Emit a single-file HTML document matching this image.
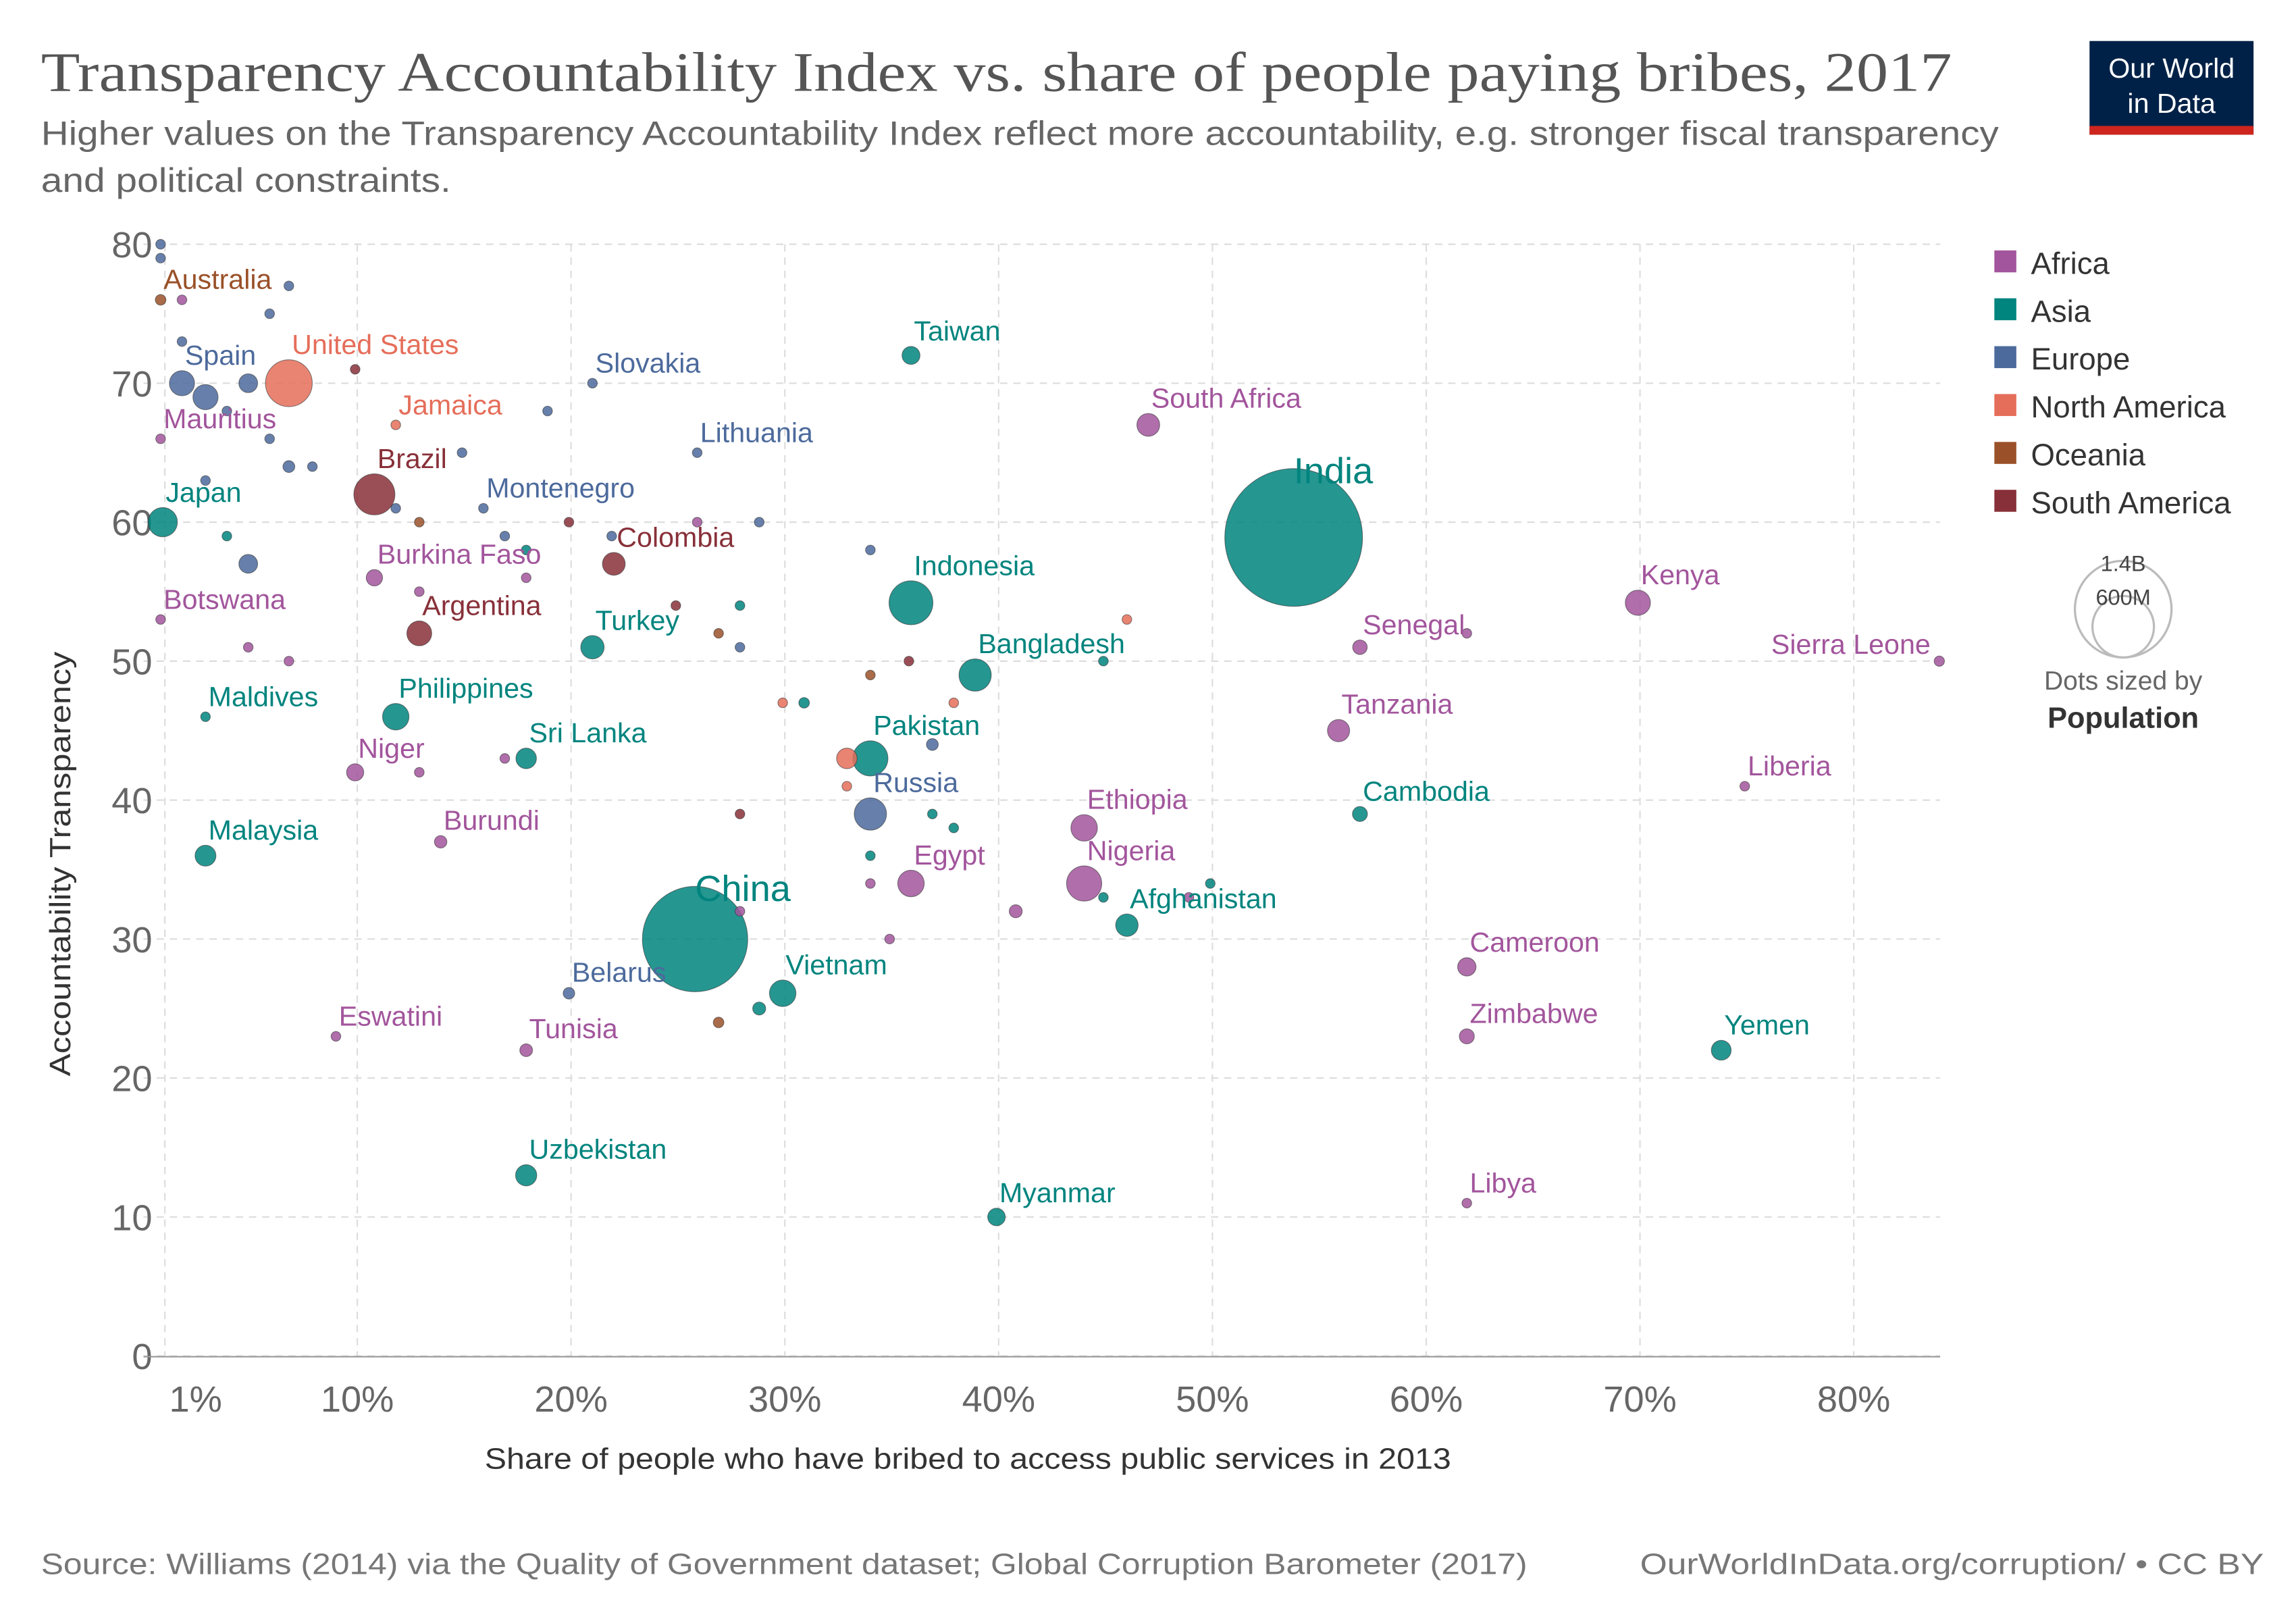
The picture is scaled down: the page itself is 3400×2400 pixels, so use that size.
<!DOCTYPE html>
<html><head><meta charset="utf-8">
<style>
html,body{margin:0;padding:0;background:#fff;}
svg{display:block;}
text{font-family:"Liberation Sans",sans-serif;}
</style></head>
<body>
<svg id="chart" width="3400" height="2400" viewBox="0 0 1568 1107" preserveAspectRatio="none" xmlns="http://www.w3.org/2000/svg">
<text x="28" y="62" style="font-family:'Liberation Serif',serif" font-size="38" fill="#555" textLength="1305" lengthAdjust="spacingAndGlyphs">Transparency Accountability Index vs. share of people paying bribes, 2017</text>
<text x="28" y="99" font-size="23" fill="#666" textLength="1337" lengthAdjust="spacingAndGlyphs">Higher values on the Transparency Accountability Index reflect more accountability, e.g. stronger fiscal transparency</text>
<text x="28" y="131" font-size="23" fill="#666" textLength="280" lengthAdjust="spacingAndGlyphs">and political constraints.</text>
<g>
<rect x="1427" y="28" width="112" height="64" fill="#002147"/>
<rect x="1427" y="86" width="112" height="6" fill="#ce261e"/>
<text x="1483" y="53" font-size="19" fill="#fff" text-anchor="middle">Our World</text>
<text x="1483" y="77" font-size="19" fill="#fff" text-anchor="middle">in Data</text>
</g>
<g id="grid"></g>
<g id="dots"></g>
<g id="labels"></g>
<text transform="translate(48,590) rotate(-90)" font-size="20" fill="#333" text-anchor="middle" textLength="290" lengthAdjust="spacingAndGlyphs">Accountability Transparency</text>
<text x="661" y="1003" font-size="20" fill="#333" text-anchor="middle" textLength="660" lengthAdjust="spacingAndGlyphs">Share of people who have bribed to access public services in 2013</text>
<g id="legend"></g>
<g>
<circle cx="1450" cy="416" r="33" fill="none" stroke="#bbb" stroke-width="1.5"/>
<circle cx="1450" cy="428" r="21" fill="none" stroke="#bbb" stroke-width="1.5"/>
<text x="1450" y="390" font-size="15" fill="#444" text-anchor="middle">1.4B</text>
<text x="1450" y="413" font-size="15" fill="#444" text-anchor="middle">600M</text>
<text x="1450" y="471" font-size="18" fill="#666" text-anchor="middle">Dots sized by</text>
<text x="1450" y="497" font-size="20" fill="#333" font-weight="bold" text-anchor="middle">Population</text>
</g>
<text x="28" y="1075" font-size="20" fill="#777" textLength="1015" lengthAdjust="spacingAndGlyphs">Source: Williams (2014) via the Quality of Government dataset; Global Corruption Barometer (2017)</text>
<text x="1546" y="1075" font-size="20" fill="#777" text-anchor="end" textLength="426" lengthAdjust="spacingAndGlyphs">OurWorldInData.org/corruption/ • CC BY</text>
</svg>
<script>
const xTicks = [1,10,20,30,40,50,60,70,80];
const xTickLabels = ["1%","10%","20%","30%","40%","50%","60%","70%","80%"];
const yTicks = [0,10,20,30,40,50,60,70,80];
const regions = ["Africa","Asia","Europe","North America","Oceania","South America"];
const regionColors = ["#a2559c","#00847e","#4c6a9c","#e56e5a","#9a5129","#883039"];
const names = ["Australia","United States","Spain","Mauritius","Brazil","Japan","Jamaica","Slovakia","Lithuania","Montenegro","Taiwan","South Africa","India","Indonesia","Colombia","Burkina Faso","Botswana","Argentina","Turkey","Bangladesh","Kenya","Senegal","Sierra Leone","Maldives","Philippines","Tanzania","Pakistan","Niger","Sri Lanka","Russia","Ethiopia","Cambodia","Liberia","Malaysia","Burundi","Egypt","Nigeria","China","Afghanistan","Cameroon","Vietnam","Belarus","Eswatini","Tunisia","Zimbabwe","Yemen","Uzbekistan","Myanmar","Libya",
"","","","","","","","","","","","","","","","","","","","","","","","","","","","","","","","","","","","","","","","","","","","","","","","","","",""];
const bribes = [0.8,6.8,1.8,0.8,10.8,0.9,11.8,21,25.9,15.9,35.9,47,53.8,35.9,22,10.8,0.8,12.9,21,38.9,69.9,56.9,84,2.9,11.8,55.9,34,9.9,17.9,34,44,56.9,74.9,2.9,13.9,35.9,44,25.8,46,61.9,29.9,19.9,9,17.9,61.9,73.8,17.9,39.9,61.9,
0.8,1.8,6.8,5.9,1.8,2.9,3.9,4.9,5.9,6.8,7.9,2.9,11.8,9.9,18.9,14.9,3.9,4.9,12.9,19.9,16.9,17.9,17.9,12.9,21.9,25.9,28.8,34,24.9,27.9,26.9,27.9,4.9,6.8,35.8,34,30.9,29.9,37.9,46,44.9,36.9,32.9,16.9,12.9,32.9,36.9,27.9,37.9,34,34,27.9,40.8,44.9,48.9,49.9,34.9,26.9,28.8,61.9,0.8];
const transparency = [76,70,70,66,62,60,67,70,65,61,72,67,58.9,54.2,57,56,53,52,51,49,54.2,51,50,46,46,45,43,42,43,39,38,39,41,36,37,34,34,30,31,28,26.1,26.1,23,22,23,22,13,10,11,
80,76,77,75,73,69,68,70,66,64,64,63,61,71,68,65,59,57,60,60,59,58,56,55,59,60,60,58,54,54,52,51,51,50,50,49,47,47,47,53,50,44,43,43,42,41,39,39,38,36,34,32,32,33,33,34,30,24,25,52,79];
const regionIdx = [4,3,2,0,5,1,3,2,2,2,1,0,1,1,5,0,0,5,1,1,0,0,0,1,1,0,1,0,1,2,0,1,0,1,0,0,0,1,1,0,1,2,0,0,0,1,1,1,0,
2,0,2,2,2,2,2,2,2,2,2,2,2,5,2,2,1,2,4,5,2,1,0,0,2,0,2,2,5,1,4,2,0,0,5,4,1,3,3,3,1,2,3,0,0,3,1,5,1,1,0,0,0,1,0,1,0,4,1,0,2];
const population = [8,156,45,1.3,120,61,3,5.5,3,0.6,23,37,1350,137,37,19,2.3,44,39,74,45,15,7.5,0.4,50,35,88,21,30,74,50,16,4.7,31,11,50,88,790,36,24,50,9.5,1.4,11.5,16,28,32,22,6.4,
1,2,5,5,3,45,5,25,5,10,5,5,5,3,5,5,5,25,3,5,5,5,5,3,5,5,5,5,5,5,5,5,5,5,5,5,8,5,5,3,3,10,30,3,3,5,5,5,5,5,5,5,12,5,5,5,5,8,12,5,1];

const x = v => 98 + 14.6*v;
const y = v => 926 - 9.49*v;
const r = p => Math.max(3.3, 1.28*Math.sqrt(p));
const NS = "http://www.w3.org/2000/svg";
function mk(tag, attrs, parent){const e=document.createElementNS(NS,tag);for(const k in attrs)e.setAttribute(k,attrs[k]);parent.appendChild(e);return e;}

const grid = document.getElementById('grid');
yTicks.forEach(t=>{
  const l=mk('line',{x1:98,x2:1325,y1:y(t),y2:y(t),stroke:'#ddd','stroke-dasharray':'5,4'},grid);
  
  
  const tx=mk('text',{x:104,y:y(t)+9,'font-size':25,fill:'#666','text-anchor':'end'},grid);
  tx.textContent=t;
  
  
});
xTicks.forEach((t,i)=>{
  const l=mk('line',{x1:x(t),x2:x(t),y1:y(80),y2:926,stroke:'#ddd','stroke-dasharray':'5,4'},grid);
  
  
  const tx=mk('text',{x:i===0?x(t)+21:x(t),y:964,'font-size':25,fill:'#666','text-anchor':'middle'},grid);
  tx.textContent=xTickLabels[i];
  
  
});
const ax=mk('line',{x1:98,x2:1325,y1:926.5,y2:926.5,stroke:'#999'},grid);



const dots=document.getElementById('dots'), labels=document.getElementById('labels');
const order=bribes.map((_,i)=>i).sort((a,b)=>population[b]-population[a]);
order.forEach(i=>{
  const c=mk('circle',{cx:x(bribes[i]),cy:y(transparency[i]),r:r(population[i]),fill:regionColors[regionIdx[i]],'fill-opacity':0.85,stroke:'#333','stroke-width':0.5,'stroke-opacity':0.6},dots);
  
  
});
names.forEach((n,i)=>{
  if(!n) return;
  const big = n==='India'||n==='China';
  const rr=r(population[i]);
  let ly = big ? y(transparency[i])-rr+10 : y(transparency[i])-rr-4;
  let lx = x(bribes[i])+(big?0:2);
  let anchor='start';
  if(n==='Sierra Leone'){lx=x(bribes[i])-6;ly=y(transparency[i])-5;anchor='end';}
  const t=mk('text',{x:lx,y:ly,'font-size':big?25:19,fill:regionColors[regionIdx[i]],'text-anchor':anchor},labels);
  t.textContent=n;
  
  
});
const lg=document.getElementById('legend');
regions.forEach((reg,i)=>{
  const g=mk('g',{},lg);
  
  
  mk('rect',{x:1362,y:171+i*32.7,width:15,height:15,fill:regionColors[i]},g);
  const t=mk('text',{x:1387,y:187+i*32.7,'font-size':21,fill:'#333'},g);
  t.textContent=reg;
});
</script>
</body></html>
